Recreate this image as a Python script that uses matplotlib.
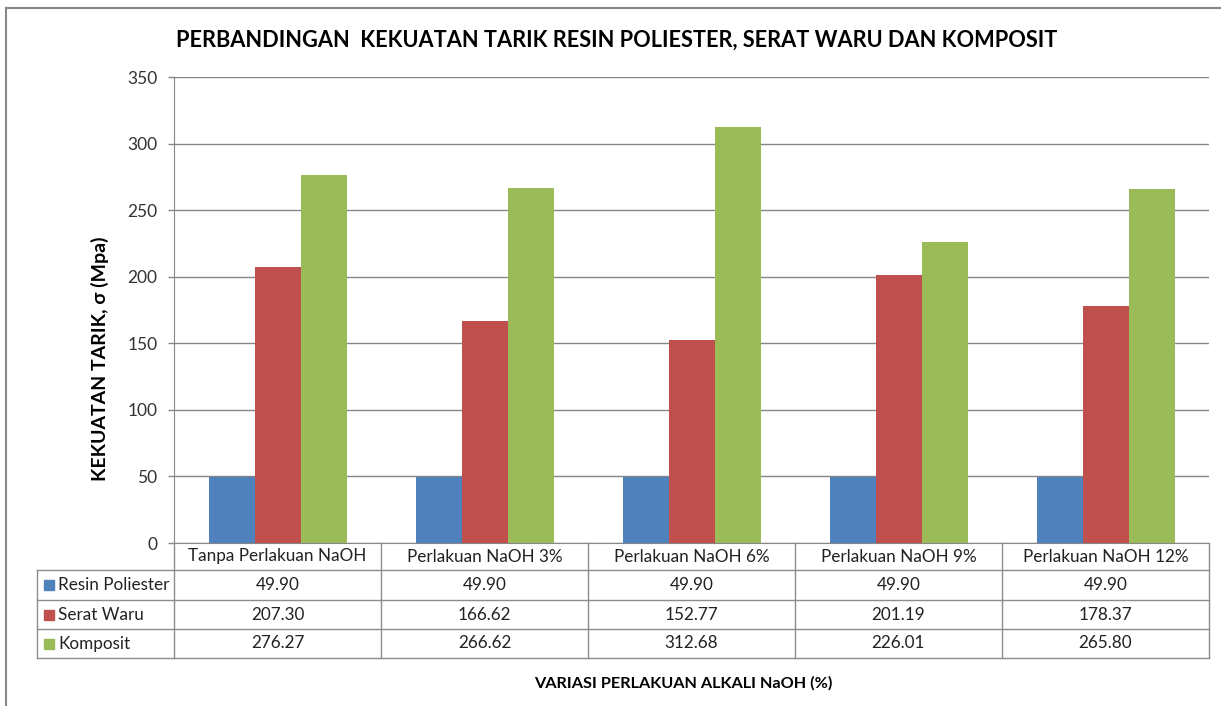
import matplotlib
matplotlib.use("Agg")
import matplotlib.pyplot as plt
import matplotlib.transforms as mtransforms
from matplotlib.patches import Rectangle
import numpy as np

categories = ["Tanpa Perlakuan NaOH", "Perlakuan NaOH 3%", "Perlakuan NaOH 6%",
              "Perlakuan NaOH 9%", "Perlakuan NaOH 12%"]
series_names = ["Resin Poliester", "Serat Waru", "Komposit"]
resin = [49.90, 49.90, 49.90, 49.90, 49.90]
serat = [207.30, 166.62, 152.77, 201.19, 178.37]
komposit = [276.27, 266.62, 312.68, 226.01, 265.80]
colors = ["#4F81BD", "#C0504D", "#9BBB59"]
yticks = [0, 50, 100, 150, 200, 250, 300, 350]

title = "PERBANDINGAN  KEKUATAN TARIK RESIN POLIESTER, SERAT WARU DAN KOMPOSIT"
ylabel = "KEKUATAN TARIK, σ (Mpa)"
xlabel = "VARIASI PERLAKUAN ALKALI NaOH (%)"

W, H = 1221, 706
fig = plt.figure(figsize=(W / 100, H / 100), dpi=100)
fig.patch.set_facecolor("white")

def fx(px):
    return px / W

def fy(py):
    return 1 - py / H

font = "Lato"

# chart border (left and top)
fig.add_artist(plt.Line2D([fx(6), fx(6)], [fy(8), 0], transform=fig.transFigure, color="#888888", lw=1.5))
fig.add_artist(plt.Line2D([fx(6), 1], [fy(8), fy(8)], transform=fig.transFigure, color="#888888", lw=1.5))

ax = fig.add_axes([fx(174), fy(543), fx(1209) - fx(174), fy(77) - fy(543)])
n = len(categories)
x = np.arange(n)
bw = 1 / 4.5
all_series = [resin, serat, komposit]
for i, (vals, c) in enumerate(zip(all_series, colors)):
    ax.bar(x + (i - 1) * bw, vals, width=bw, color=c, zorder=3)

ax.set_xlim(-0.5, n - 0.5)
ax.set_ylim(0, 350)
ax.set_yticks(yticks)
ax.set_yticklabels([str(t) for t in yticks], fontfamily=font, fontsize=12.5, color="#333333")
ax.tick_params(axis="y", length=4, color="#868686", width=1, pad=8)
ax.set_xticks([])
ax.grid(axis="y", color="#868686", lw=1, zorder=0)
for s in ["top", "right"]:
    ax.spines[s].set_visible(False)
ax.spines["left"].set_color("#868686")
ax.spines["bottom"].set_color("#868686")

fig.text(fx(617), fy(40), title, ha="center", va="center", fontsize=15.7,
         fontweight="bold", family=font, color="black")
fig.text(fx(100), fy(359), ylabel, ha="center", va="center", rotation=90,
         fontsize=14, fontweight="bold", family=font)
fig.text(fx(683), fy(683), xlabel, ha="center", va="center", fontsize=11.7,
         fontweight="bold", family=font)

# data table
tr = mtransforms.blended_transform_factory(ax.transData, fig.transFigure)
lc = "#8c8c8c"
left_px = 37
left_d = -0.5 + (left_px - 174) / ((1209 - 174) / n)
right_d = n - 0.5
row_y = [543, 570, 600, 629, 658]

def hline(x0, x1, py):
    fig.add_artist(plt.Line2D([x0, x1], [fy(py), fy(py)], transform=tr, color=lc, lw=1))

def vline(xd, py0, py1):
    fig.add_artist(plt.Line2D([xd, xd], [fy(py0), fy(py1)], transform=tr, color=lc, lw=1))

for py in row_y[1:]:
    hline(left_d, right_d, py)
for b in range(n + 1):
    vline(b - 0.5, row_y[0], row_y[-1])
vline(left_d, row_y[1], row_y[-1])

tfs = 12.3
for j, cat in enumerate(categories):
    fig.text(j, fy((row_y[0] + row_y[1]) / 2), cat, transform=tr, ha="center",
             va="center", fontsize=tfs, family=font, color="#222222")
for i, (name, vals, c) in enumerate(zip(series_names, all_series, colors)):
    yc = (row_y[i + 1] + row_y[i + 2]) / 2
    fig.add_artist(Rectangle((fx(44), fy(yc + 5)), fx(10), fy(yc - 5) - fy(yc + 5),
                             transform=fig.transFigure, color=c))
    fig.text(fx(58), fy(yc), name, ha="left", va="center", fontsize=tfs,
             family=font, color="#222222")
    for j, v in enumerate(vals):
        fig.text(j, fy(yc), f"{v:.2f}", transform=tr, ha="center", va="center",
                 fontsize=tfs, family=font, color="#222222")

fig.savefig("out.png", dpi=100, facecolor="white")
